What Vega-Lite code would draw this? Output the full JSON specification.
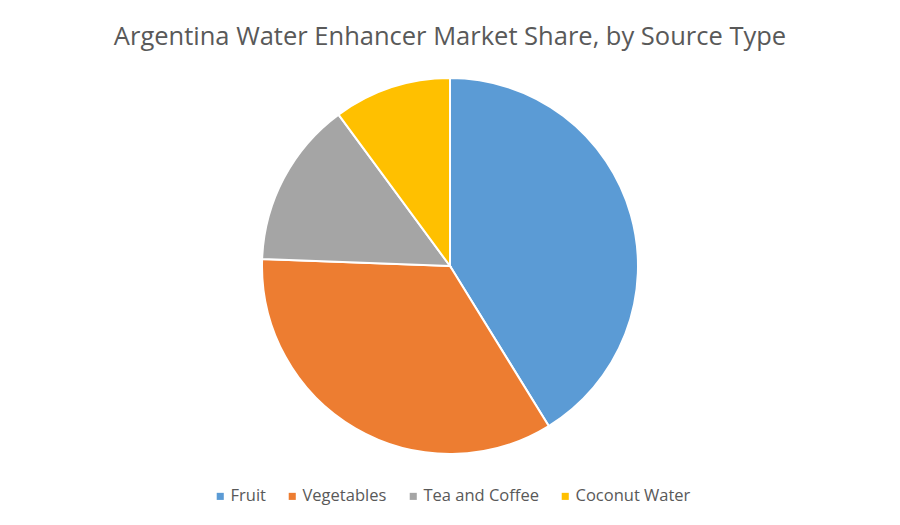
{
  "$schema": "https://vega.github.io/schema/vega-lite/v6.json",
  "width": 900,
  "height": 525,
  "autosize": {"type": "fit", "contains": "padding"},
  "padding": {"top": 24, "bottom": 53, "left": 0, "right": 0},
  "background": "white",
  "title": {
    "text": "Argentina Water Enhancer Market Share, by Source Type",
    "font": "Open Sans",
    "fontSize": 25.5,
    "fontWeight": "normal",
    "color": "#595959",
    "anchor": "middle",
    "offset": 10
  },
  "data": {
    "values": [
      {"source": "Fruit", "share": 41.2, "rank": 1},
      {"source": "Vegetables", "share": 34.4, "rank": 2},
      {"source": "Tea and Coffee", "share": 14.3, "rank": 3},
      {"source": "Coconut Water", "share": 10.1, "rank": 4}
    ]
  },
  "mark": {"type": "arc", "radius": 188, "stroke": "white", "strokeWidth": 2},
  "encoding": {
    "theta": {"field": "share", "type": "quantitative", "stack": true},
    "order": {"field": "rank", "type": "quantitative"},
    "color": {
      "field": "source",
      "type": "nominal",
      "sort": ["Fruit", "Vegetables", "Tea and Coffee", "Coconut Water"],
      "scale": {
        "domain": ["Fruit", "Vegetables", "Tea and Coffee", "Coconut Water"],
        "range": ["#5B9BD5", "#ED7D31", "#A5A5A5", "#FFC000"]
      },
      "legend": {
        "title": null,
        "orient": "none",
        "legendX": 212,
        "legendY": 428,
        "direction": "horizontal",
        "symbolType": "square",
        "symbolSize": 50,
        "symbolStrokeWidth": 0,
        "labelFont": "Open Sans",
        "labelFontSize": 16.5,
        "labelColor": "#595959",
        "labelOffset": 2,
        "columnPadding": 18
      }
    }
  },
  "config": {"view": {"stroke": null}}
}
